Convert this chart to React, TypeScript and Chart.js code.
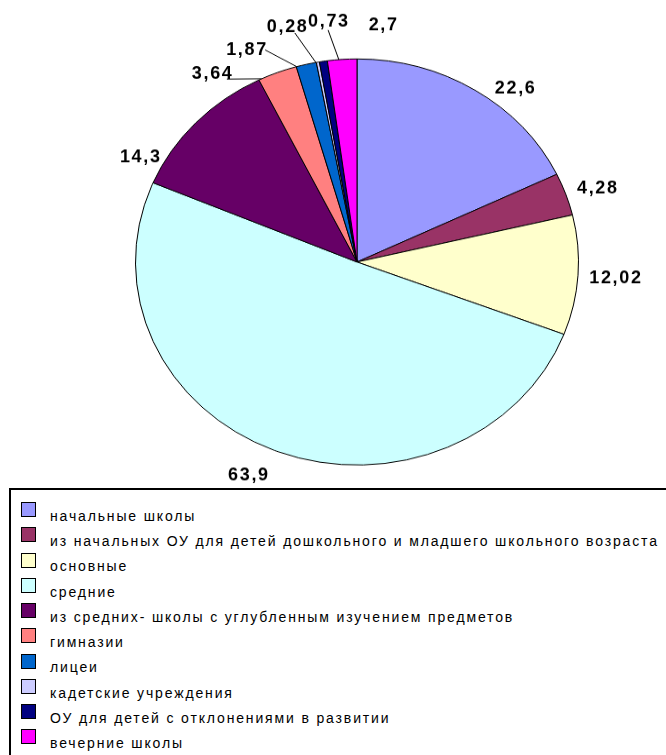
import React, { useEffect, useRef, useMemo } from 'react';
import { Chart, registerables } from 'chart.js';

Chart.register(...registerables);

// ---------- data ----------
const categories = [
  'начальные школы',
  'из начальных ОУ для детей дошкольного и младшего школьного возраста',
  'основные',
  'средние',
  'из средних- школы с углубленным изучением предметов',
  'гимназии',
  'лицеи',
  'кадетские учреждения',
  'ОУ для детей с отклонениями в развитии',
  'вечерние школы',
];
const values = [22.6, 4.28, 12.02, 63.9, 14.3, 3.64, 1.87, 0.28, 0.73, 2.7];
const valueLabels = ['22,6', '4,28', '12,02', '63,9', '14,3', '3,64', '1,87', '0,28', '0,73', '2,7'];
const colors = [
  '#9999FF', '#993366', '#FFFFCC', '#CCFFFF', '#660066',
  '#FF8080', '#0066CC', '#CCCCFF', '#000080', '#FF00FF',
];

// ---------- label placement (polar: degrees clockwise from 12 o'clock, radius factor) ----------
const labelAngles = [39.9, 71.6, 93.9, 205.1, 297.8, 324.7, 334.4, 344.7, 353.7, 5.7];
const labelRadii = [1.111, 1.142, 1.168, 1.159, 1.108, 1.134, 1.158, 1.2, 1.189, 1.173];
const leaderEndAngles: (number | null)[] = [null, null, null, null, null, 334.5, 344.2, 349.3, 355.3, null];
const leaderStartOffsets: ([number, number] | null)[] = [null, null, null, null, null, [15, 5], [19, 0], [8, 6], [0, 8], null];

// ---------- layout ----------
const W = 666;
const CANVAS_H = 528;
const DISPLAY_H = 484;
const SY = DISPLAY_H / CANVAS_H;
const FONT = '"Liberation Sans", Arial, sans-serif';
const LEGEND_FONT_PX = 14;
const LEGEND_ROW0 = 517;
const LEGEND_STEP = 25.25;

function fitSpacing(text: string, font: string, target: number) {
  const c = document.createElement('canvas').getContext('2d')!;
  c.font = font;
  const w = c.measureText(text).width;
  return (target - w) / (text.length - 1);
}

const labelPlugin = {
  id: 'valueLabels',
  afterDatasetsDraw(chart: any) {
    const ctx: CanvasRenderingContext2D = chart.ctx;
    const meta = chart.getDatasetMeta(0);
    ctx.save();
    const font = `bold 18px ${FONT}`;
    ctx.font = font;
    const baseW = ctx.measureText('22,6').width;
    const ls = Math.max(0, (40 - baseW) / 3);
    meta.data.forEach((arc: any, i: number) => {
      const { x, y, outerRadius } = arc.getProps(['x', 'y', 'outerRadius'], true);
      const a = (labelAngles[i] * Math.PI) / 180;
      const f = labelRadii[i];
      const lx = x + outerRadius * f * Math.sin(a);
      const ly = y - outerRadius * f * Math.cos(a);
      const le = leaderEndAngles[i];
      const lo = leaderStartOffsets[i];
      if (le != null && lo) {
        const e = (le * Math.PI) / 180;
        const ex = x + outerRadius * Math.sin(e);
        const ey = y - outerRadius * Math.cos(e);
        ctx.beginPath();
        ctx.moveTo(lx + lo[0], ly + lo[1] / SY);
        ctx.lineTo(ex, ey);
        ctx.strokeStyle = '#000';
        ctx.lineWidth = 1;
        ctx.stroke();
      }
      ctx.save();
      ctx.translate(lx, ly);
      ctx.scale(1, 1 / SY);
      (ctx as any).letterSpacing = ls + 'px';
      ctx.font = font;
      ctx.textAlign = 'center';
      ctx.textBaseline = 'middle';
      ctx.fillStyle = '#000';
      ctx.fillText(valueLabels[i], ls / 2, 0);
      ctx.restore();
    });
    ctx.restore();
  },
};

export default function App() {
  const ref = useRef<HTMLCanvasElement>(null);

  useEffect(() => {
    if (!ref.current) return;
    const chart = new Chart(ref.current, {
      type: 'pie',
      data: {
        labels: categories,
        datasets: [
          {
            data: values,
            backgroundColor: colors,
            borderColor: '#000',
            borderWidth: 1,
          },
        ],
      },
      options: {
        responsive: false,
        animation: false,
        devicePixelRatio: 1,
        events: [],
        layout: { padding: { left: 135, right: 87, top: 63.8, bottom: 20.2 } },
        plugins: {
          legend: { display: false },
          tooltip: { enabled: false },
          title: { display: false },
        },
      },
      plugins: [labelPlugin],
    });
    return () => chart.destroy();
  }, []);

  const legendFont = `${LEGEND_FONT_PX}px ${FONT}`;
  const legendLs = useMemo(() => fitSpacing(categories[1], legendFont, 607), [legendFont]);

  return (
    <div
      style={{
        position: 'fixed',
        left: 0,
        top: 0,
        width: W,
        height: 755,
        background: '#fff',
        overflow: 'hidden',
      }}
    >
      <canvas
        ref={ref}
        width={W}
        height={CANVAS_H}
        style={{ position: 'absolute', left: 0, top: 0, width: W + 'px', height: DISPLAY_H + 'px' }}
      />
      <div
        style={{
          position: 'absolute',
          left: 9,
          top: 488,
          width: 700,
          height: 300,
          border: '2px solid #000',
          boxSizing: 'border-box',
          background: '#fff',
        }}
      />
      {categories.map((c, i) => {
        const cy = LEGEND_ROW0 + i * LEGEND_STEP;
        return (
          <React.Fragment key={i}>
            <div
              style={{
                position: 'absolute',
                left: 21,
                top: Math.round(cy - 15),
                width: 15,
                height: 15,
                boxSizing: 'border-box',
                border: '1.5px solid #000',
                background: colors[i],
              }}
            />
            <div
              style={{
                position: 'absolute',
                left: 50,
                top: cy - 8.2,
                font: legendFont,
                lineHeight: '14px',
                letterSpacing: legendLs + 'px',
                whiteSpace: 'nowrap',
                color: '#000',
              }}
            >
              {c}
            </div>
          </React.Fragment>
        );
      })}
    </div>
  );
}
